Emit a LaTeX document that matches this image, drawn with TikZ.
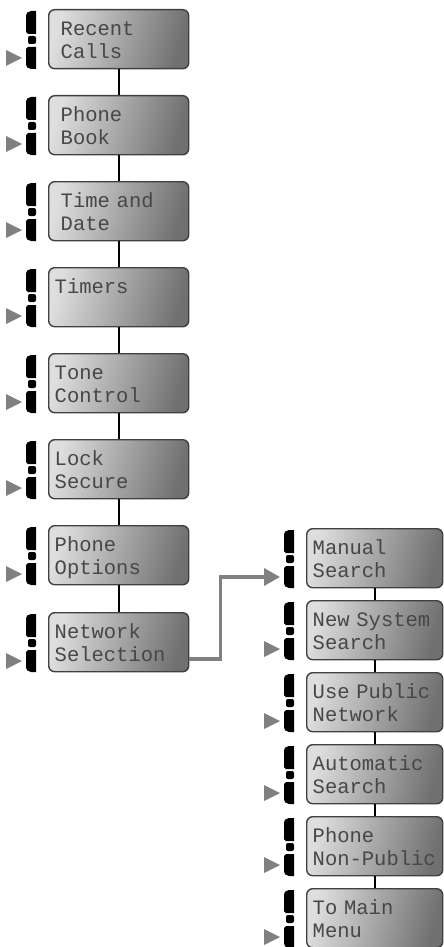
\documentclass[tikz,border=0pt]{standalone}
\usepackage{fontspec}
\newfontfamily\lcdfont{Liberation Mono}
\usepackage{tikz}
\usetikzlibrary{arrows.meta, positioning}

\colorlet{lcdlight}{black!13}
\colorlet{lcddark}{black!56}
\colorlet{lcdborder}{black!75}
\colorlet{lcdtext}{black!72}
\colorlet{cursorgray}{black!50}

\tikzset{
  lcdbox/.style={draw=lcdborder, line width=1.4pt, rounded corners=6pt,
    left color=lcdlight, right color=lcddark, shading angle=75,
    anchor=north west, minimum height=59pt, inner ysep=0pt,
    inner xsep=6pt, text width=128pt, align=left,
    text height=21pt, text depth=28pt, text=lcdtext,
    font=\fontsize{20.5}{23}\lcdfont\selectfont},
  lcdwide/.style={inner xsep=12pt, text width=116pt},
  lcdsub/.style={text width=124pt},
  lcdlink/.style={draw=black, line width=1.6pt},
  netlink/.style={draw=cursorgray, line width=3.5pt,
    -{Triangle[length=16pt, width=17pt]}}
}

% the bracket marks left of a box
\newcommand{\lcdmarks}[1]{%
  \begin{scope}[shift={(#1.north west)}]
    \fill (-12,2) -- (-17,2) .. controls (-20,2) and (-22,4) .. (-22,8)
      -- (-22,23) -- (-20,25) -- (-12,25) -- cycle;
    \fill[rounded corners=2pt] (-20,27) rectangle (-12,35);
    \fill (-12,38) -- (-20,38) -- (-22,40) -- (-22,54)
      .. controls (-22,58) and (-20,60) .. (-17,60) -- (-12,60) -- cycle;
  \end{scope}}
% the cursor triangle
\newcommand{\lcdcursor}[1]{%
  \fill[cursorgray] ([shift={(-42,41)}]#1.north west) -- ([shift={(-26,49)}]#1.north west)
    -- ([shift={(-42,57)}]#1.north west) -- cycle;}

\begin{document}
\begin{tikzpicture}[x=1pt, y=-1pt]
  \useasboundingbox (0,0) rectangle (444,947);

  % main menu
  \node[lcdbox, lcdwide] (recent) at (48,9) {Recent\\Calls};
  \node[lcdbox, lcdwide] (phonebook) at (48,95) {Phone\\Book};
  \node[lcdbox, lcdwide] (timedate) at (48,181) {Time and\\Date};
  \node[lcdbox] (timers) at (48,267) {Timers\\\mbox{}};
  \node[lcdbox] (tone) at (48,353) {Tone\\Control};
  \node[lcdbox] (lock) at (48,439) {Lock\\Secure};
  \node[lcdbox] (options) at (48,525) {Phone\\Options};
  \node[lcdbox] (network) at (48,612) {Network\\Selection};

  % network selection menu
  \node[lcdbox, lcdsub] (manual) at (306,528) {Manual\\Search};
  \node[lcdbox, lcdsub] (newsys) at (306,600) {New System\\Search};
  \node[lcdbox, lcdsub] (public) at (306,672) {Use Public\\Network};
  \node[lcdbox, lcdsub] (auto) at (306,744) {Automatic\\Search};
  \node[lcdbox, lcdsub] (nonpublic) at (306,816) {Phone\\Non-Public};
  \node[lcdbox, lcdsub] (mainmenu) at (306,888) {To Main\\Menu};

  \foreach \a/\b in {recent/phonebook, phonebook/timedate, timedate/timers,
      timers/tone, tone/lock, lock/options, options/network,
      manual/newsys, newsys/public, public/auto, auto/nonpublic, nonpublic/mainmenu}
    \draw[lcdlink] (\a) -- (\b);

  \foreach \n in {recent, phonebook, timedate, timers, tone, lock, options, network,
      manual, newsys, public, auto, nonpublic, mainmenu}
    {\lcdmarks{\n}}
  \foreach \n in {recent, phonebook, timedate, timers, tone, lock, options, network,
      newsys, public, auto, nonpublic, mainmenu}
    {\lcdcursor{\n}}

  \coordinate (manualin) at ([shift={(-26,49)}]manual.north west);
  \draw[netlink] ([shift={(0,47)}]network.north east) -- ++(31,0) |- (manualin);
\end{tikzpicture}
\end{document}
